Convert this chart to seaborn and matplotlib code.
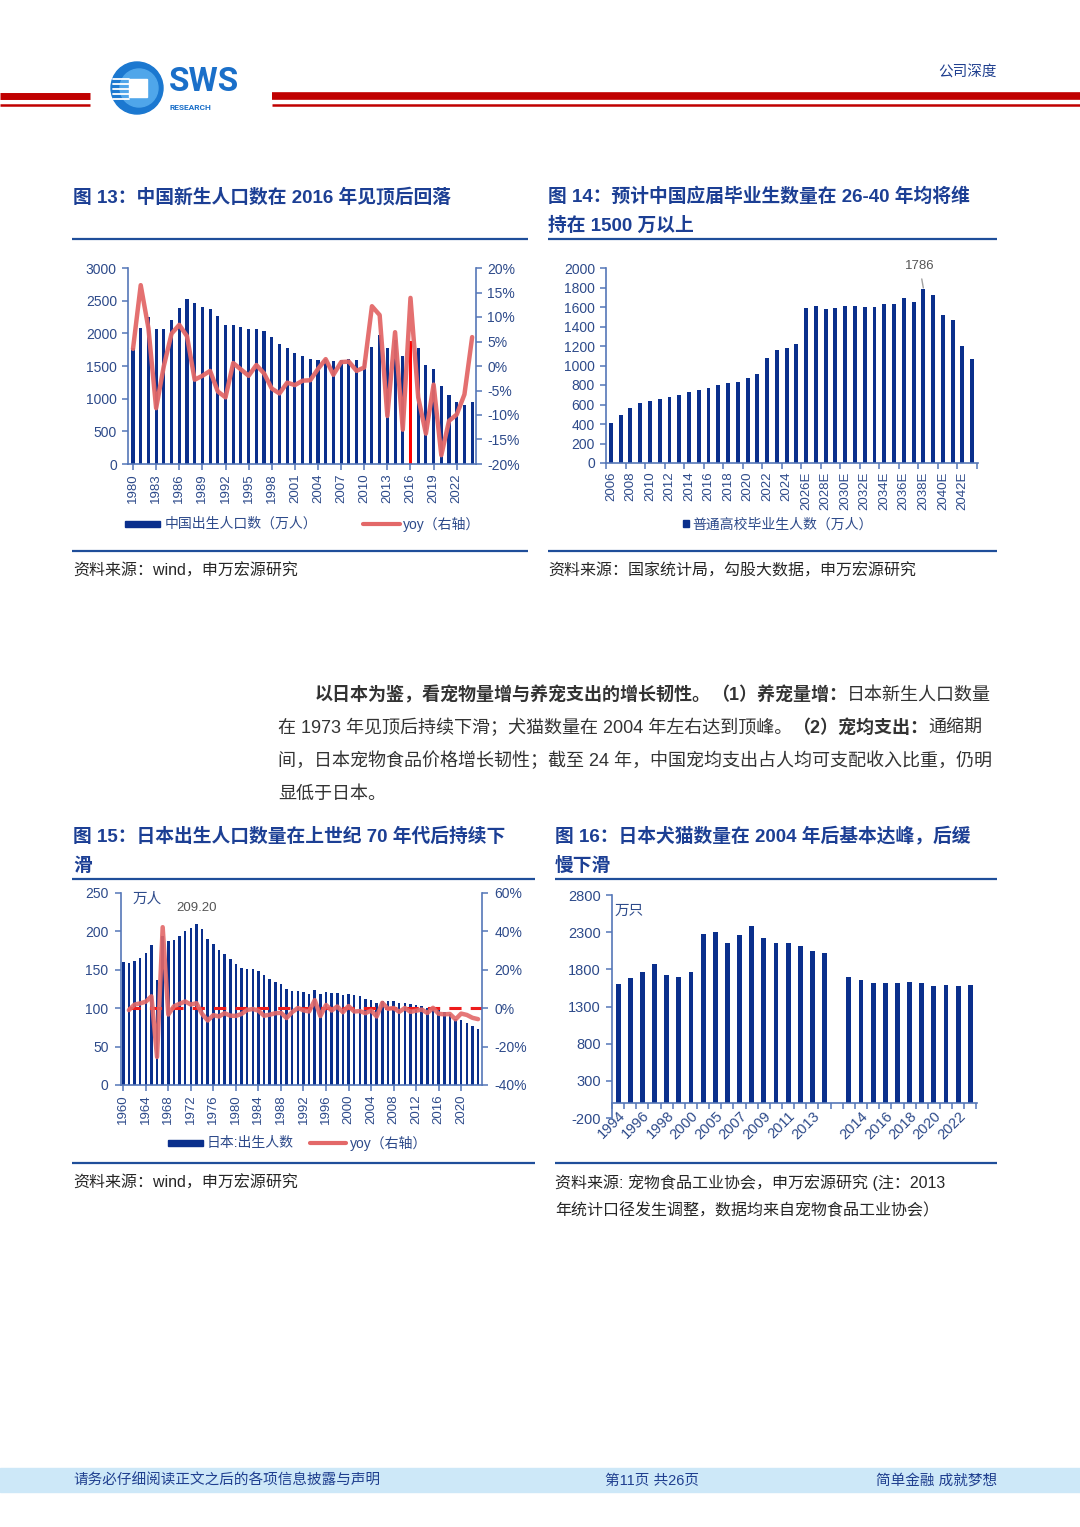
import numpy as np
import pandas as pd
import matplotlib
matplotlib.use('Agg')
import matplotlib.pyplot as plt
from matplotlib.patches import Circle, Rectangle
import seaborn as sns

# ---- data ----
cn_years = list(range(1980, 2025))
cn_births = [1780, 2080, 2250, 2060, 2060, 2200, 2390, 2520, 2460, 2400,
             2380, 2260, 2120, 2120, 2100, 2060, 2060, 2030, 1940, 1830,
             1770, 1700, 1650, 1600, 1590, 1610, 1580, 1590, 1605, 1590,
             1590, 1785, 1970, 1780, 1900, 1650, 1880, 1770, 1520, 1460,
             1200, 1060, 950, 900, 950]
cn_yoy = [3.5, 16.5, 7.7, -8.6, 0.0, 6.6, 8.4, 6.1, -2.8, -2.0,
          -1.0, -5.2, -6.4, 0.6, -0.7, -2.0, 0.2, -1.5, -4.6, -5.6,
          -3.4, -3.9, -3.0, -2.9, -0.6, 1.4, -1.8, 0.8, 0.9, -1.0,
          -0.3, 12.2, 10.4, -10.2, 6.9, -13.0, 13.9, -6.4, -13.8, -3.8,
          -18.2, -11.2, -9.9, -5.8, 5.9]
cn_peak_year = 2016

grad_labels = [str(y) for y in range(2006, 2026)] + [f'{y}E' for y in range(2026, 2044)]
grad_values = [413, 495, 559, 611, 631, 657, 680, 699, 727, 749,
               765, 795, 821, 834, 874, 909, 1076, 1158, 1179, 1222,
               1590, 1615, 1580, 1590, 1608, 1615, 1598, 1598, 1632, 1632,
               1688, 1655, 1786, 1722, 1518, 1465, 1205, 1062]

jp_years = list(range(1960, 2024))
jp_births = [160.6, 158.9, 161.9, 166.0, 171.7, 182.4, 136.1, 193.6, 187.2, 189.0,
             193.4, 200.1, 203.9, 209.2, 203.0, 190.1, 183.3, 175.5, 170.9, 164.3,
             157.7, 152.9, 151.5, 150.9, 149.0, 143.2, 138.3, 134.7, 131.4, 124.7,
             122.2, 122.3, 120.9, 118.8, 123.8, 118.7, 120.7, 119.2, 120.3, 117.8,
             119.1, 117.1, 115.4, 112.4, 111.1, 106.3, 109.3, 109.0, 109.1, 107.0,
             107.1, 105.1, 103.7, 103.0, 100.4, 100.6, 97.7, 94.6, 91.8, 86.5,
             84.1, 81.2, 77.1, 72.7]
jp_yoy_years = list(range(1961, 2024))
jp_yoy = [-1.0, 1.9, 2.5, 3.4, 6.2, -25.4, 42.2, -3.3, 1.0, 2.3,
          3.5, 1.9, 2.6, -3.0, -6.4, -3.6, -4.3, -2.6, -3.9, -4.0,
          -3.0, -0.9, -0.4, -1.3, -3.9, -3.4, -2.6, -2.4, -5.1, -2.0,
          0.1, -1.1, -1.7, 4.2, -4.1, 1.7, -1.2, 0.9, -2.1, 1.1,
          -1.7, -1.5, -2.6, -1.2, -4.3, 2.8, -0.3, 0.1, -1.9, 0.1,
          -1.9, -1.3, -0.7, -2.5, 0.2, -2.9, -3.2, -3.0, -5.8, -2.8,
          -3.5, -5.0, -5.7]

pet_old_years = [str(y) for y in list(range(1994, 2001)) + list(range(2004, 2015))]
pet_old_values = [1604, 1690, 1770, 1878, 1721, 1698, 1770, 2276, 2307, 2160,
                  2263, 2388, 2227, 2151, 2151, 2119, 2052, 2016]
pet_new_years = [str(y) for y in range(2013, 2024)]
pet_new_values = [1698, 1658, 1618, 1618, 1618, 1631, 1618, 1582, 1595, 1573, 1586]

# ---- style ----
sns.set_theme(style='white')
plt.rcParams['font.family'] = ['Liberation Sans', 'Noto Sans CJK SC', 'DejaVu Sans']
plt.rcParams['axes.unicode_minus'] = False

BAR = '#0a2f8c'
AXC = '#5577b8'
TXT = '#2d4a8a'
LINE = '#e36868'
RED = '#c00000'
TITLE = '#1c3f94'
RULE = '#1f4e9a'
DARK = '#262626'

W, H = 1080, 1527
fig = plt.figure(figsize=(W / 100, H / 100), dpi=100)
page = fig.add_axes([0, 0, 1, 1])
page.set_xlim(0, W)
page.set_ylim(H, 0)
page.axis('off')


def px_axes(l, t, r, b):
    return fig.add_axes([l / W, 1 - b / H, (r - l) / W, (b - t) / H])


def spines(ax, show):
    for s in ['top', 'right', 'left', 'bottom']:
        ax.spines[s].set_visible(s in show)
        ax.spines[s].set_color(AXC)
        ax.spines[s].set_linewidth(1.2)


def put(x, y, s, size=11.5, bold=False, color=DARK, ha='left', **kw):
    return page.text(x, y, s, fontsize=size, fontweight='bold' if bold else 'normal',
                     color=color, ha=ha, va='center', **kw)


def run(x, y, parts, size=13, color='#333333'):
    r = fig.canvas.get_renderer()
    for s, bold in parts:
        t = put(x, y, s, size=size, bold=bold, color=color)
        x += t.get_window_extent(renderer=r).width


# ---- header ----
page.plot([0, 90], [96, 96], color=RED, lw=5, solid_capstyle='butt')
page.plot([0, 90], [105, 105], color=RED, lw=1.8, solid_capstyle='butt')
page.plot([272, W], [96, 96], color=RED, lw=5.5, solid_capstyle='butt')
page.plot([272, W], [105, 105], color=RED, lw=1.8, solid_capstyle='butt')
page.add_patch(Circle((137, 88), 26, color='#1b78d0'))
page.add_patch(Circle((139, 88), 19, color='#4fa6ea'))
page.add_patch(Rectangle((129, 79), 18, 18, color='white'))
for yy in [79, 84, 89, 94, 99]:
    page.plot([113, 129], [yy, yy], color='white', lw=1.3)
put(169, 82, 'SWS', size=24, bold=True, color='#1a6fc9', family='Roboto')
put(170, 107, 'RESEARCH', size=6, bold=True, color='#1a6fc9', family='Roboto')
put(997, 73, '公司深度', size=10.5, color='#1f3f8f', ha='right')

# ---- titles / rules / sources ----
put(73, 197, '图 13：中国新生人口数在 2016 年见顶后回落', size=13.5, bold=True, color=TITLE)
put(548, 197, '图 14：预计中国应届毕业生数量在 26-40 年均将维', size=13.5, bold=True, color=TITLE)
put(548, 226, '持在 1500 万以上', size=13.5, bold=True, color=TITLE)
for x0, x1, y in [(72, 528, 239), (548, 997, 239), (72, 528, 551), (548, 997, 551),
                  (72, 535, 879), (555, 997, 879), (72, 535, 1163), (555, 997, 1163)]:
    page.plot([x0, x1], [y, y], color=RULE, lw=1.6, solid_capstyle='butt')
put(73, 571, '资料来源：wind，申万宏源研究')
put(548, 571, '资料来源：国家统计局，勾股大数据，申万宏源研究')

put(73, 837, '图 15：日本出生人口数量在上世纪 70 年代后持续下', size=13.5, bold=True, color=TITLE)
put(73, 866, '滑', size=13.5, bold=True, color=TITLE)
put(555, 837, '图 16：日本犬猫数量在 2004 年后基本达峰，后缓', size=13.5, bold=True, color=TITLE)
put(555, 866, '慢下滑', size=13.5, bold=True, color=TITLE)
put(73, 1183, '资料来源：wind，申万宏源研究')
put(555, 1183, '资料来源: 宠物食品工业协会，申万宏源研究 (注：2013')
put(555, 1211, '年统计口径发生调整，数据均来自宠物食品工业协会）')

# ---- paragraph ----
run(315, 695, [('以日本为鉴，看宠物量增与养宠支出的增长韧性。', True),
               ('（1）养宠量增：', True), ('日本新生人口数量', False)])
run(278, 728, [('在 1973 年见顶后持续下滑；犬猫数量在 2004 年左右达到顶峰。', False),
               ('（2）宠均支出：', True), ('通缩期', False)])
run(278, 761, [('间，日本宠物食品价格增长韧性；截至 24 年，中国宠均支出占人均可支配收入比重，仍明', False)])
run(278, 794, [('显低于日本。', False)])

# ---- footer ----
page.add_patch(Rectangle((0, 1468), W, 24, color='#cde8f8'))
put(73, 1481, '请务必仔细阅读正文之后的各项信息披露与声明', size=10.5, color='#1f3f8f')
put(652, 1481, '第11页 共26页', size=10.5, color='#1f3f8f', ha='center')
put(997, 1481, '简单金融 成就梦想', size=10.5, color='#1f3f8f', ha='right')

tick_kw = dict(colors=AXC, labelcolor=TXT, width=1.1, length=4, direction='out')

# ---- chart 13 ----
df1 = pd.DataFrame({'year': cn_years, 'births': cn_births, 'yoy': cn_yoy})
ax1 = px_axes(128, 268, 476, 464)
sns.barplot(data=df1, x='year', y='births', native_scale=True, width=0.4,
            color=BAR, saturation=1, linewidth=0, ax=ax1)
ax1.patches[cn_years.index(cn_peak_year)].set_facecolor('#ff0000')
ax2 = ax1.twinx()
sns.lineplot(data=df1, x='year', y='yoy', color=LINE, lw=3.2, alpha=0.95, ax=ax2, legend=False)
ax1.set_xlim(1979.35, 2024.5)
ax1.set_ylim(0, 3000)
ax2.set_ylim(-20, 20)
ax1.set_yticks(range(0, 3001, 500))
ax2.set_yticks(range(-20, 21, 5))
ax2.set_yticklabels([f'{v}%' for v in range(-20, 21, 5)])
ax1.set_xticks(cn_years[::3])
ax1.set_xticklabels([str(y) for y in cn_years[::3]], rotation=90)
spines(ax1, ['left', 'bottom'])
spines(ax2, ['right'])
ax1.tick_params(axis='y', left=True, labelsize=10, pad=4, **tick_kw)
ax1.tick_params(axis='x', bottom=True, labelsize=9.5, pad=3, **tick_kw)
ax2.tick_params(axis='y', right=True, labelsize=10, pad=4, **tick_kw)
for a in (ax1, ax2):
    a.set_xlabel('')
    a.set_ylabel('')
page.add_patch(Rectangle((125, 521), 35, 6, color=BAR))
put(165, 524, '中国出生人口数（万人）', size=10, color=TXT)
page.plot([363, 400], [524, 524], color=LINE, lw=3)
put(403, 524, 'yoy（右轴）', size=10, color=TXT)

# ---- chart 14 ----
df2 = pd.DataFrame({'label': grad_labels, 'value': grad_values})
ax3 = px_axes(606, 268, 978, 463)
sns.barplot(data=df2, x='label', y='value', width=0.4, color=BAR,
            saturation=1, linewidth=0, ax=ax3)
ax3.set_xlim(-0.45, 37.6)
ax3.set_ylim(0, 2000)
ax3.set_yticks(range(0, 2001, 200))
ax3.set_xticks(range(0, len(grad_labels), 2))
ax3.set_xticklabels(grad_labels[::2], rotation=90)
ax3.set_xticks(np.arange(-0.5, len(grad_labels), 2), minor=True)
spines(ax3, ['left', 'bottom'])
ax3.tick_params(axis='y', left=True, labelsize=10, pad=4, **tick_kw)
ax3.tick_params(axis='x', which='major', bottom=True, length=0, labelsize=9.5, pad=6,
                colors=AXC, labelcolor=TXT)
ax3.tick_params(axis='x', which='minor', bottom=True, length=4, width=1.1, colors=AXC)
ax3.set_xlabel('')
ax3.set_ylabel('')
peak_i = int(np.argmax(grad_values))
ax3.annotate(f'{grad_values[peak_i]}', xy=(peak_i, grad_values[peak_i] + 10),
             xytext=(peak_i - 0.4, 2025), ha='center', va='center', fontsize=9.5,
             color='#555555', annotation_clip=False,
             arrowprops=dict(arrowstyle='-', color='#a0a0a0', lw=1, shrinkA=3, shrinkB=0))
page.add_patch(Rectangle((683, 520), 6, 7, color=BAR))
put(692, 525, '普通高校毕业生人数（万人）', size=10, color=TXT)

# ---- chart 15 ----
df3 = pd.DataFrame({'year': jp_years, 'births': jp_births})
df3y = pd.DataFrame({'year': jp_yoy_years, 'yoy': jp_yoy})
ax5 = px_axes(121, 893, 482, 1085)
sns.barplot(data=df3, x='year', y='births', native_scale=True, width=0.45,
            color=BAR, saturation=1, linewidth=0, ax=ax5)
ax6 = ax5.twinx()
ax6.axhline(0, color='#ee1c1c', lw=2.2, ls=(0, (4, 3)), xmin=0.02, zorder=1)
sns.lineplot(data=df3y, x='year', y='yoy', color=LINE, lw=3.2, alpha=0.9, ax=ax6, legend=False)
ax5.set_xlim(1959.6, 2023.7)
ax5.set_ylim(0, 250)
ax6.set_ylim(-40, 60)
ax5.set_yticks(range(0, 251, 50))
ax6.set_yticks(range(-40, 61, 20))
ax6.set_yticklabels([f'{v}%' for v in range(-40, 61, 20)])
ax5.set_xticks(range(1960, 2021, 4))
ax5.set_xticklabels([str(y) for y in range(1960, 2021, 4)], rotation=90)
spines(ax5, ['left', 'bottom'])
spines(ax6, ['right'])
ax5.tick_params(axis='y', left=True, labelsize=10, pad=5, **tick_kw)
ax5.tick_params(axis='x', bottom=True, labelsize=9.5, pad=3, **tick_kw)
ax6.tick_params(axis='y', right=True, labelsize=10, pad=5, **tick_kw)
for a in (ax5, ax6):
    a.set_xlabel('')
    a.set_ylabel('')
top_i = int(np.argmax(jp_births))
ax5.text(jp_years[top_i], 231, f'{jp_births[top_i]:.2f}', ha='center', va='center',
         fontsize=9.5, color='#555555')
ax5.text(0.033, 0.97, '万人', transform=ax5.transAxes, ha='left', va='center',
         fontsize=10.5, color=TXT)
page.add_patch(Rectangle((168, 1140), 35, 6, color=BAR))
put(207, 1143, '日本:出生人数', size=10, color=TXT)
page.plot([310, 346], [1143, 1143], color=LINE, lw=3)
put(350, 1143, 'yoy（右轴）', size=10, color=TXT)

# ---- chart 16 ----
pet_labels = pet_old_years + [''] + pet_new_years
pet_values = pet_old_values + [np.nan] + pet_new_values
df4 = pd.DataFrame({'slot': range(len(pet_labels)), 'value': pet_values}).dropna()
ax7 = px_axes(612, 895, 977, 1118)
sns.barplot(data=df4, x='slot', y='value', order=list(range(len(pet_labels))),
            width=0.4, color=BAR, saturation=1, linewidth=0, ax=ax7)
ax7.set_xlim(-0.5, 29.55)
ax7.set_ylim(-200, 2800)
ax7.set_yticks(range(-200, 2801, 500))
ax7.spines['bottom'].set_position(('data', 0))
ax7.set_xticks(range(0, len(pet_labels), 2))
ax7.set_xticklabels(pet_labels[::2], rotation=45, ha='right', rotation_mode='anchor')
ax7.set_xticks(np.arange(-0.5, len(pet_labels), 1), minor=True)
spines(ax7, ['left', 'bottom'])
ax7.tick_params(axis='y', left=True, labelsize=10.5, pad=4, **tick_kw)
ax7.tick_params(axis='x', which='major', bottom=True, length=0, labelsize=10.5, pad=4,
                colors=AXC, labelcolor=TXT)
ax7.tick_params(axis='x', which='minor', bottom=True, length=4, width=1.1, colors=AXC)
ax7.set_xlabel('')
ax7.set_ylabel('')
ax7.text(0.008, 0.928, '万只', transform=ax7.transAxes, ha='left', va='center',
         fontsize=10.5, color=TXT)

fig.savefig('out.png', dpi=100)
plt.close(fig)
